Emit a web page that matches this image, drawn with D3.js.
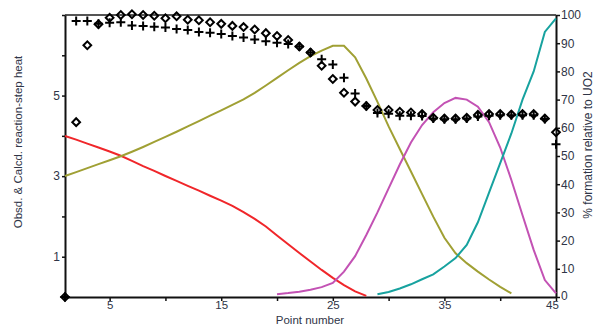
<!DOCTYPE html>
<html>
<head>
<meta charset="utf-8">
<script src="https://cdn.jsdelivr.net/npm/d3@7"></script>
<style>
  body { margin: 0; background: #fff; }
  svg { display: block; font-family: "Liberation Sans", Arial, sans-serif; }
</style>
</head>
<body>
<svg id="chart" width="599" height="327"></svg>
<script>
// Point numbers along the titration
const points = d3.range(1, 46);

// Reaction-step heats (left axis)
const obsdHeat = [0, 4.34, 6.25, 6.77, 6.93, 7.0, 7.02, 7.0, 6.98, 6.92,
  6.97, 6.88, 6.87, 6.82, 6.78, 6.73, 6.70, 6.64, 6.55, 6.48,
  6.38, 6.22, 6.07, 5.74, 5.41, 5.07, 4.85, 4.74, 4.64, 4.64,
  4.60, 4.58, 4.54, 4.45, 4.43, 4.43, 4.45, 4.52, 4.54, 4.54,
  4.53, 4.54, 4.54, 4.43, 4.09];
const calcdHeat = [0, 6.85, 6.85, 6.78, 6.81, 6.82, 6.74, 6.73, 6.71, 6.69,
  6.65, 6.63, 6.58, 6.56, 6.53, 6.48, 6.44, 6.39, 6.35, 6.31,
  6.28, 6.22, 6.07, 5.90, 5.77, 5.44, 5.05, 4.74, 4.57, 4.55,
  4.50, 4.50, 4.49, 4.43, 4.41, 4.41, 4.43, 4.48, 4.50, 4.51,
  4.51, 4.51, 4.51, 4.42, 3.79];

// Species formation, % relative to UO2 (right axis); each starts at its start point
const redStart = 1;
const redPct = [57.1, 55.8, 54.4, 53.0, 51.6, 50.1, 48.3, 46.4, 44.7, 42.9,
  41.2, 39.4, 37.7, 35.9, 34.2, 32.3, 30.1, 27.7, 25.0, 21.8,
  18.7, 15.6, 12.6, 9.6, 6.8, 4.2, 2.0, 0.4];
const oliveStart = 1;
const olivePct = [42.9, 44.3, 45.7, 47.1, 48.5, 49.9, 51.5, 53.2, 55.0, 56.8,
  58.6, 60.5, 62.4, 64.3, 66.2, 68.1, 70.1, 72.4, 75.0, 77.7,
  80.4, 83.0, 85.4, 87.4, 89.1, 89.1, 85.0, 77.5, 69.2, 60.5,
  52.5, 44.5, 36.5, 28.5, 21.0, 15.5, 12.0, 9.0, 6.2, 3.6, 1.3];
const magentaStart = 20;
const magentaPct = [1.0, 1.4, 1.9, 2.6, 3.5, 5.0, 9.0, 14.5, 22.0, 30.0,
  38.5, 47.0, 54.8, 61.0, 65.5, 68.8, 70.6, 70.0, 67.5, 62.0,
  53.0, 41.5, 29.0, 16.7, 6.0, 1.3];
const tealStart = 29;
const tealPct = [1.0, 1.8, 3.0, 4.5, 6.3, 8.0, 10.8, 13.8, 18.5, 26.5,
  37.0, 47.5, 58.0, 70.0, 80.0, 94.0, 98.8];

// Axis ticks
const xTicks = [5, 10, 15, 20, 25, 30, 35, 40, 45];
const xTickLabels = [5, 15, 25, 35, 45];
const leftTicks = [0, 1, 2, 3, 4, 5, 6, 7];
const leftTickLabels = [1, 3, 5];
const rightTicks = d3.range(0, 101, 10);

const svg = d3.select("#chart");
const plotLeft = 65, plotRight = 556, plotTop = 15, plotBottom = 297;
const textColor = "#2f3547";

const x = d3.scaleLinear().domain([1, 45]).range([plotLeft, plotRight]);
const yL = d3.scaleLinear().domain([0, 7]).range([plotBottom, plotTop]);
const yR = d3.scaleLinear().domain([0, 100]).range([plotBottom, plotTop]);

// Frame: top border
svg.append("line").attr("x1", plotLeft).attr("x2", plotRight)
  .attr("y1", plotTop).attr("y2", plotTop)
  .attr("stroke", "#555").attr("stroke-width", 2);

// Bottom axis
const xAxis = svg.append("g").attr("transform", `translate(0,${plotBottom})`)
  .call(d3.axisBottom(x).tickValues(xTicks).tickSize(4).tickSizeOuter(0)
    .tickFormat(d => xTickLabels.includes(d) ? d : ""));
// Left axis
const lAxis = svg.append("g").attr("transform", `translate(${plotLeft},0)`)
  .call(d3.axisLeft(yL).tickValues(leftTicks).tickSize(3).tickSizeOuter(0)
    .tickFormat(d => leftTickLabels.includes(d) ? d : ""));
// Right axis
const rAxis = svg.append("g").attr("transform", `translate(${plotRight},0)`)
  .call(d3.axisRight(yR).tickValues(rightTicks).tickSize(4).tickSizeOuter(0));

[xAxis, lAxis, rAxis].forEach(g => {
  g.select(".domain").attr("stroke", "#111").attr("stroke-width", 2);
  g.selectAll(".tick line").attr("stroke", "#111").attr("stroke-width", 1.5);
  g.selectAll(".tick text").attr("fill", textColor)
    .style("font-size", "12px").style("font-family", "'Liberation Sans', Arial, sans-serif");
});
xAxis.selectAll(".tick text").attr("y", 2).attr("dy", "0.85em").style("font-size", "11.5px");
// keep the last point label clear of the right axis "0"
xAxis.selectAll(".tick text").filter(d => d === 45).attr("x", -4);
lAxis.selectAll(".tick text").attr("x", -5);
rAxis.selectAll(".tick text").attr("x", 5);
rAxis.selectAll(".tick text").filter(d => d === 0).attr("dy", "0.2em");

// Axis titles
svg.append("text").attr("transform", "translate(22,142) rotate(-90)")
  .attr("text-anchor", "middle").attr("fill", textColor).style("font-size", "11.5px")
  .text("Obsd. & Calcd. reaction-step heat");
svg.append("text").attr("transform", "translate(592,145) rotate(-90)")
  .attr("text-anchor", "middle").attr("fill", textColor).style("font-size", "12px")
  .text("% formation relative to UO2");
svg.append("text").attr("x", 310).attr("y", 324)
  .attr("text-anchor", "middle").attr("fill", textColor).style("font-size", "11.5px")
  .text("Point number");

// Species curves
const line = d3.line().x(d => x(d[0])).y(d => yR(d[1]));
const curves = [
  { start: redStart, vals: redPct, color: "#f0262a" },
  { start: oliveStart, vals: olivePct, color: "#a0a034" },
  { start: magentaStart, vals: magentaPct, color: "#c352b4" },
  { start: tealStart, vals: tealPct, color: "#17a29f" }
];
curves.forEach(c => {
  svg.append("path")
    .datum(c.vals.map((v, i) => [c.start + i, v]))
    .attr("d", line).attr("fill", "none")
    .attr("stroke", c.color).attr("stroke-width", 2);
});

// Heat markers: open diamonds (observed) and crosses (calculated)
const diamond = d3.symbol().type(d3.symbolSquare).size(30);
svg.append("g").selectAll("path").data(points).join("path")
  .attr("d", diamond)
  .attr("transform", (p, i) => `translate(${x(p)},${yL(obsdHeat[i])}) rotate(45)`)
  .attr("fill", "none").attr("stroke", "#000").attr("stroke-width", 2);

svg.append("g").selectAll("path").data(points).join("path")
  .attr("d", "M-4.5,0H4.5M0,-4.5V4.5")
  .attr("transform", (p, i) => `translate(${x(p)},${yL(calcdHeat[i])})`)
  .attr("fill", "none").attr("stroke", "#000").attr("stroke-width", 2);
</script>
</body>
</html>
